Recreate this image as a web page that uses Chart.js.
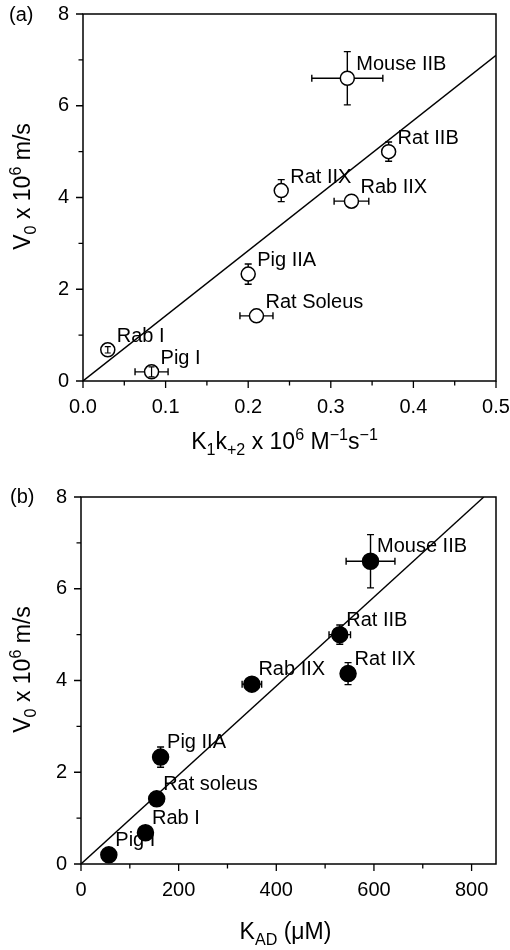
<!DOCTYPE html>
<html>
<head>
<meta charset="utf-8">
<script src="https://cdn.jsdelivr.net/npm/chart.js@4"></script>
<style>
  html, body { margin: 0; padding: 0; background: #fff; }
  #wrap { position: relative; width: 510px; height: 950px; }
  .panel { position: absolute; left: 0; width: 510px; height: 475px; }
  canvas { display: block; }
</style>
</head>
<body>
<div id="wrap">
  <div class="panel" style="top:0"><canvas id="chartA" width="510" height="475"></canvas></div>
  <div class="panel" style="top:475px"><canvas id="chartB" width="510" height="475"></canvas></div>
</div>
<script>
// ---- data ----
const fibreNamesA = ['Mouse IIB', 'Rat IIB', 'Rat IIX', 'Rab IIX', 'Pig IIA', 'Rat Soleus', 'Rab I', 'Pig I'];
const fibreNamesB = ['Mouse IIB', 'Rat IIB', 'Rat IIX', 'Rab IIX', 'Pig IIA', 'Rat soleus', 'Rab I', 'Pig I'];

// shortening velocity V0 (x 10^6 m/s) and its error
const v0    = [6.60, 5.00, 4.15, 3.92, 2.33, 1.42, 0.68, 0.20];
const v0Err = [0.58, 0.21, 0.24, 0.00, 0.22, 0.00, 0.07, 0.11];

// panel (a): K1k+2 (x 10^6 M^-1 s^-1) and its error
const k1k2    = [0.320, 0.370, 0.240, 0.325, 0.200, 0.210, 0.030, 0.083];
const k1k2Err = [0.043, 0.000, 0.000, 0.021, 0.000, 0.020, 0.000, 0.020];

// panel (b): KAD (uM) and its error
const kad    = [593, 530, 547, 350, 163, 155, 132, 57];
const kadErr = [50, 22, 0, 20, 0, 0, 0, 0];

// linear fits through the origin (end points)
const fitA = [{ x: 0, y: 0 }, { x: 0.5, y: 7.1 }];
const fitB = [{ x: 0, y: 0 }, { x: 825, y: 8 }];

// axis ticks
const yMajorTicks = [0, 2, 4, 6, 8];
const yMinorTicks = [1, 3, 5, 7];
const xMajorTicksA = [0, 0.1, 0.2, 0.3, 0.4, 0.5];
const xMinorTicksA = [0.05, 0.15, 0.25, 0.35, 0.45];
const xMajorTicksB = [0, 200, 400, 600, 800];
const xMinorTicksB = [100, 300, 500, 700];

// ---- drawing helpers ----
const FONT = '"Liberation Sans", Arial, Helvetica, sans-serif';

// draws text made of plain / subscript / superscript runs
function richWidth(ctx, segs, size) {
  let w = 0;
  for (const [t, k] of segs) {
    ctx.font = `${k ? size * 0.7 : size}px ${FONT}`;
    w += ctx.measureText(t).width;
  }
  return w;
}
function drawRich(ctx, segs, x, y, size) {
  const w = richWidth(ctx, segs, size);
  let cx = x - w / 2;
  ctx.textAlign = 'left';
  ctx.textBaseline = 'alphabetic';
  ctx.fillStyle = '#000';
  for (const [t, k] of segs) {
    const fs = k ? size * 0.7 : size;
    ctx.font = `${fs}px ${FONT}`;
    const dy = k === 'sup' ? -size * 0.4 : (k === 'sub' ? size * 0.24 : 0);
    ctx.fillText(t, cx, y + dy);
    cx += ctx.measureText(t).width;
  }
}

const yTitleSegs = [['V'], ['0', 'sub'], [' x 10'], ['6', 'sup'], [' m/s']];
const xTitleSegsA = [['K'], ['1', 'sub'], ['k'], ['+2', 'sub'], [' x 10'], ['6', 'sup'], [' M'], ['\u22121', 'sup'], ['s'], ['\u22121', 'sup']];
const xTitleSegsB = [['K'], ['AD', 'sub'], [' (\u03bcM)']];

// keeps the plot area fixed by the layout padding alone
function clearScalePadding(s) {
  s.paddingLeft = 0; s.paddingRight = 0; s.paddingTop = 0; s.paddingBottom = 0;
}

// frame, tick marks, error bars, point labels and axis titles
const decorPlugin = {
  id: 'decor',
  beforeDatasetDraw(chart, args, opts) {
    if (args.index !== 0) return;
    const { ctx } = chart;
    const xs = chart.scales.x, ys = chart.scales.y;
    const data = chart.data.datasets[0].data;
    const r = opts.radius;
    ctx.save();
    ctx.strokeStyle = '#000';
    ctx.lineWidth = 1.4;
    data.forEach((p, i) => {
      const px = xs.getPixelForValue(p.x), py = ys.getPixelForValue(p.y);
      const ex = opts.xErr[i], ey = opts.yErr[i];
      const cap = 3.5;
      if (ey > 0) {
        const t = ys.getPixelForValue(p.y + ey), b = ys.getPixelForValue(p.y - ey);
        ctx.beginPath();
        if (py - t > r) {
          ctx.moveTo(px, py - r); ctx.lineTo(px, t);
          ctx.moveTo(px - cap, t); ctx.lineTo(px + cap, t);
          ctx.moveTo(px, py + r); ctx.lineTo(px, b);
          ctx.moveTo(px - cap, b); ctx.lineTo(px + cap, b);
        }
        ctx.stroke();
      }
      if (ex > 0) {
        const lft = xs.getPixelForValue(p.x - ex), rgt = xs.getPixelForValue(p.x + ex);
        ctx.beginPath();
        if (rgt - px > r) {
          ctx.moveTo(px - r, py); ctx.lineTo(lft, py);
          ctx.moveTo(lft, py - cap); ctx.lineTo(lft, py + cap);
          ctx.moveTo(px + r, py); ctx.lineTo(rgt, py);
          ctx.moveTo(rgt, py - cap); ctx.lineTo(rgt, py + cap);
        }
        ctx.stroke();
      }
    });
    ctx.restore();
  },
  afterDatasetDraw(chart, args, opts) {
    if (args.index !== 0) return;
    // error bars shorter than the symbol radius sit inside the symbol
    const { ctx } = chart;
    const xs = chart.scales.x, ys = chart.scales.y;
    const data = chart.data.datasets[0].data;
    const r = opts.radius;
    ctx.save();
    ctx.strokeStyle = '#000';
    ctx.lineWidth = 1.2;
    data.forEach((p, i) => {
      const px = xs.getPixelForValue(p.x), py = ys.getPixelForValue(p.y);
      const ey = opts.yErr[i];
      if (ey > 0) {
        const t = ys.getPixelForValue(p.y + ey), b = ys.getPixelForValue(p.y - ey);
        if (py - t <= r) {
          const cap = 3;
          ctx.beginPath();
          ctx.moveTo(px, t); ctx.lineTo(px, b);
          ctx.moveTo(px - cap, t); ctx.lineTo(px + cap, t);
          ctx.moveTo(px - cap, b); ctx.lineTo(px + cap, b);
          ctx.stroke();
        }
      }
    });
    ctx.restore();
  },
  afterDraw(chart, args, opts) {
    const { ctx, chartArea: a } = chart;
    const xs = chart.scales.x, ys = chart.scales.y;
    ctx.save();
    // frame
    ctx.strokeStyle = '#000';
    ctx.lineWidth = 1.5;
    ctx.strokeRect(a.left, a.top, a.right - a.left, a.bottom - a.top);
    // tick marks (outside)
    ctx.lineWidth = 1.3;
    ctx.beginPath();
    for (const v of opts.yMajor) { const y = ys.getPixelForValue(v); ctx.moveTo(a.left, y); ctx.lineTo(a.left - 7, y); }
    for (const v of opts.yMinor) { const y = ys.getPixelForValue(v); ctx.moveTo(a.left, y); ctx.lineTo(a.left - 4.5, y); }
    for (const v of opts.xMajor) { const x = xs.getPixelForValue(v); ctx.moveTo(x, a.bottom); ctx.lineTo(x, a.bottom + 7); }
    for (const v of opts.xMinor) { const x = xs.getPixelForValue(v); ctx.moveTo(x, a.bottom); ctx.lineTo(x, a.bottom + 4.5); }
    ctx.stroke();
    // point labels
    ctx.fillStyle = '#000';
    ctx.font = `20px ${FONT}`;
    ctx.textAlign = 'left';
    ctx.textBaseline = 'alphabetic';
    chart.data.datasets[0].data.forEach((p, i) => {
      const px = xs.getPixelForValue(p.x), py = ys.getPixelForValue(p.y);
      ctx.fillText(opts.names[i], px + opts.labelDx, py + opts.labelDy);
    });
    // panel letter
    ctx.fillText(opts.panel, opts.panelX, opts.panelY);
    // x axis title
    drawRich(ctx, opts.xTitle, (a.left + a.right) / 2 + opts.xTitleDx, a.bottom + opts.xTitleDy, 23);
    // y axis title (rotated)
    ctx.translate(opts.yTitleX, (a.top + a.bottom) / 2 - 11);
    ctx.rotate(-Math.PI / 2);
    drawRich(ctx, yTitleSegs, 0, 0, 23);
    ctx.restore();
  }
};

function makeChart(id, cfg) {
  const pts = cfg.xVals.map((x, i) => ({ x, y: v0[i] }));
  return new Chart(document.getElementById(id), {
    type: 'scatter',
    data: {
      datasets: [
        {
          data: pts,
          order: 0,
          pointRadius: cfg.radius,
          pointBackgroundColor: cfg.fill,
          pointBorderColor: '#000',
          pointBorderWidth: 1.5,
          showLine: false
        },
        {
          type: 'line',
          data: cfg.fit,
          order: 1,
          borderColor: '#000',
          borderWidth: 1.4,
          pointRadius: 0,
          fill: false,
          tension: 0
        }
      ]
    },
    options: {
      responsive: false,
      animation: false,
      events: [],
      layout: { padding: { top: cfg.padTop, right: cfg.padRight, left: 0, bottom: 0 } },
      plugins: {
        legend: { display: false },
        tooltip: { enabled: false },
        decor: {
          radius: cfg.radius,
          xErr: cfg.xErr, yErr: v0Err,
          names: cfg.names,
          labelDx: cfg.labelDx, labelDy: cfg.labelDy,
          yMajor: yMajorTicks, yMinor: yMinorTicks,
          xMajor: cfg.xMajor, xMinor: cfg.xMinor,
          panel: cfg.panel, panelX: cfg.panelX, panelY: cfg.panelY,
          xTitle: cfg.xTitle, xTitleDx: cfg.xTitleDx, xTitleDy: cfg.xTitleDy,
          yTitleX: 30
        }
      },
      scales: {
        x: {
          type: 'linear',
          min: cfg.xMin, max: cfg.xMax,
          grid: { display: false, drawTicks: false },
          border: { display: false },
          afterBuildTicks: (s) => { s.ticks = cfg.xMajor.map(v => ({ value: v })); },
          afterFit: (s) => { s.height = cfg.xAxisHeight; clearScalePadding(s); },
          ticks: {
            padding: 14,
            maxRotation: 0,
            autoSkip: false,
            color: '#000',
            font: { family: FONT, size: 20 },
            callback: cfg.xFmt
          }
        },
        y: {
          type: 'linear',
          min: 0, max: 8,
          grid: { display: false, drawTicks: false },
          border: { display: false },
          afterBuildTicks: (s) => { s.ticks = yMajorTicks.map(v => ({ value: v })); },
          afterFit: (s) => { s.width = cfg.yAxisWidth; clearScalePadding(s); },
          ticks: {
            padding: 14,
            color: '#000',
            font: { family: FONT, size: 20 },
            callback: (v) => String(v)
          }
        }
      }
    },
    plugins: [decorPlugin]
  });
}

makeChart('chartA', {
  xVals: k1k2, xErr: k1k2Err, names: fibreNamesA, fit: fitA,
  radius: 7, fill: '#fff', labelDx: 9, labelDy: -8,
  xMin: 0, xMax: 0.5, xMajor: xMajorTicksA, xMinor: xMinorTicksA,
  xFmt: (v) => v.toFixed(1),
  padTop: 14, padRight: 14, xAxisHeight: 94, yAxisWidth: 83,
  panel: '(a)', panelX: 9, panelY: 21,
  xTitle: xTitleSegsA, xTitleDx: -5, xTitleDy: 68
});

makeChart('chartB', {
  xVals: kad, xErr: kadErr, names: fibreNamesB, fit: fitB,
  radius: 8, fill: '#000', labelDx: 6.5, labelDy: -9,
  xMin: 0, xMax: 850, xMajor: xMajorTicksB, xMinor: xMinorTicksB,
  xFmt: (v) => String(v),
  padTop: 22, padRight: 14, xAxisHeight: 86, yAxisWidth: 81,
  panel: '(b)', panelX: 10, panelY: 28,
  xTitle: xTitleSegsB, xTitleDx: -3, xTitleDy: 75
});
</script>
</body>
</html>
